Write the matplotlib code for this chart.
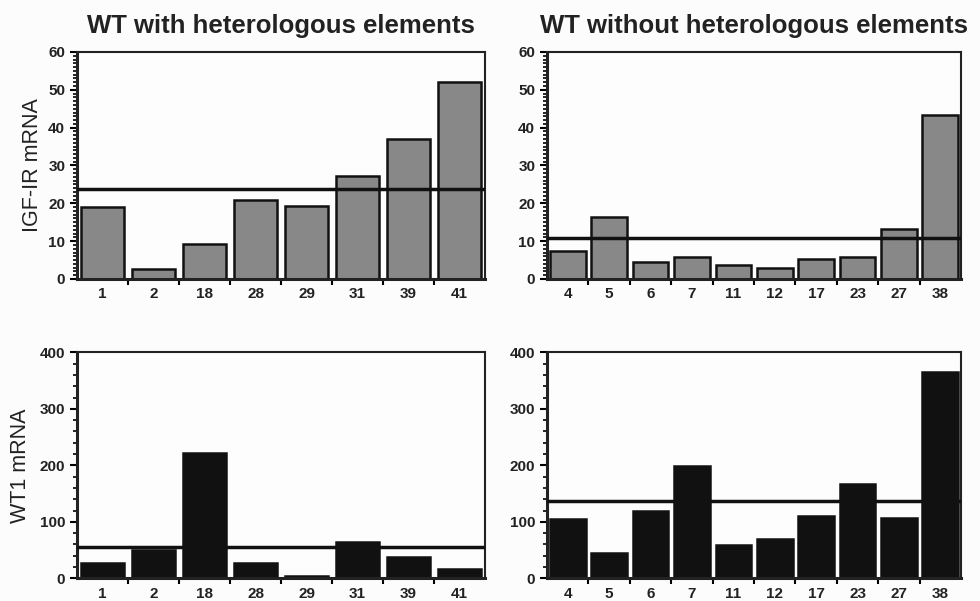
import matplotlib
matplotlib.use("Agg")
import matplotlib.pyplot as plt
from matplotlib.ticker import MultipleLocator, FixedLocator
import numpy as np

plt.rcParams['font.family'] = ['Liberation Sans', 'DejaVu Sans']

# Data
with_cats = ["1", "2", "18", "28", "29", "31", "39", "41"]
without_cats = ["4", "5", "6", "7", "11", "12", "17", "23", "27", "38"]

igf_with = [18.9, 2.6, 9.3, 20.9, 19.4, 27.3, 36.9, 52.1]
igf_without = [7.5, 16.3, 4.5, 5.9, 3.6, 3.0, 5.2, 5.9, 13.2, 43.4]
igf_with_mean = 23.7
igf_without_mean = 10.9

wt1_with = [26.5, 50, 222, 26.5, 4, 65, 37, 17]
wt1_without = [105, 45, 120, 199, 59, 70, 110, 167, 107, 365]
wt1_with_mean = 55
wt1_without_mean = 137

titles = ["WT with heterologous elements", "WT without heterologous elements"]
ylabels = ["IGF-IR mRNA", "WT1 mRNA"]

fig = plt.figure(figsize=(9.8, 6.01), dpi=100)
fig.patch.set_facecolor('#fcfcfc')

pos = {
    (0, 0): [0.0786, 0.5358, 0.4163, 0.3777],
    (0, 1): [0.5582, 0.5358, 0.4224, 0.3777],
    (1, 0): [0.0786, 0.0377, 0.4163, 0.3761],
    (1, 1): [0.5582, 0.0377, 0.4224, 0.3761],
}

panels = {
    (0, 0): (with_cats, igf_with, igf_with_mean, '#888888', 60, 10, 1),
    (0, 1): (without_cats, igf_without, igf_without_mean, '#888888', 60, 10, 1),
    (1, 0): (with_cats, wt1_with, wt1_with_mean, '#111111', 400, 100, 20),
    (1, 1): (without_cats, wt1_without, wt1_without_mean, '#111111', 400, 100, 20),
}

for (r, c), (cats, vals, mean, col, ymax, major, minor) in panels.items():
    ax = fig.add_axes(pos[(r, c)])
    ax.set_facecolor('#fdfdfd')
    n = len(cats)
    x = np.arange(n)
    ax.bar(x, vals, width=0.86, color=col, edgecolor='#111111', linewidth=1.8, zorder=2)
    ax.axhline(mean, color='#111111', linewidth=2.5, zorder=3)
    ax.set_xlim(-0.5, n - 0.5)
    ax.set_ylim(0, ymax)
    ax.yaxis.set_major_locator(MultipleLocator(major))
    ax.yaxis.set_minor_locator(MultipleLocator(minor))
    ax.set_xticks(x)
    ax.set_xticklabels(cats)
    ax.xaxis.set_minor_locator(FixedLocator(np.arange(n - 1) + 0.5))
    ax.tick_params(axis='x', which='major', length=0, pad=6, labelsize=11)
    ax.tick_params(axis='x', which='minor', length=4, width=1.5, direction='out')
    ax.tick_params(axis='y', which='major', length=5, width=1.5, direction='out', labelsize=11)
    ax.tick_params(axis='y', which='minor', length=3, width=1.2, direction='out')
    for lab in ax.get_xticklabels() + ax.get_yticklabels():
        lab.set_fontweight('bold')
        lab.set_color('#222222')
    for s in ax.spines.values():
        s.set_linewidth(1.5)
        s.set_color('#222222')
    ax.spines['bottom'].set_linewidth(2.2)
    ax.spines['left'].set_linewidth(2.2)
    if r == 0:
        ax.set_title(titles[c], fontsize=18.5, fontweight='bold', pad=14, color='#222222')
    if c == 0:
        ax.set_ylabel(ylabels[r], fontsize=15.5, labelpad=4 if r == 0 else 6, color='#222222')

fig.savefig("out.png", dpi=100, facecolor=fig.get_facecolor())
